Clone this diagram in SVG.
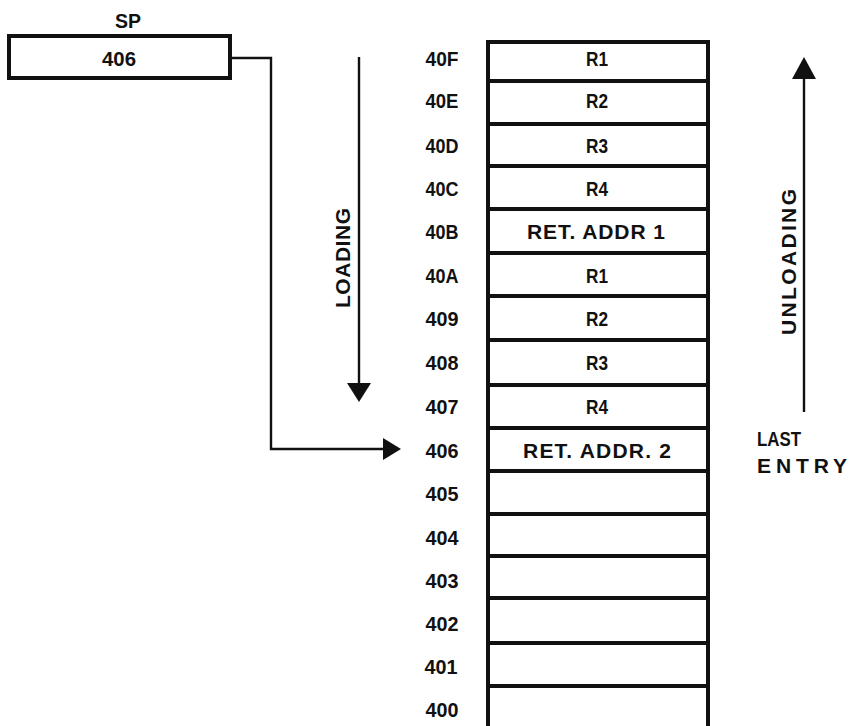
<svg xmlns="http://www.w3.org/2000/svg" width="850" height="726" viewBox="0 0 850 726">
<defs>
<style>
text{font-family:"Liberation Sans",Arial,sans-serif;font-weight:bold;font-size:21px;fill:#111;}
.c{text-anchor:middle;}
.box{fill:#fff;stroke:#111;stroke-width:4;}
.sep{stroke:#111;stroke-width:4;}
.ln{fill:none;stroke:#111;stroke-width:2.4;}
.head{fill:#111;}
</style>
</defs>
<rect width="850" height="726" fill="#fff"/>

<g id="sp">
<text class="c" x="128" y="28" textLength="26" lengthAdjust="spacingAndGlyphs">SP</text>
<rect class="box" x="9" y="36" width="221" height="42"/>
<text class="c" x="119" y="66" textLength="34" lengthAdjust="spacingAndGlyphs">406</text>
</g>

<g id="stack">
<path class="box" d="M488 730 V42 H708 V730"/>
<g id="r40F"><text class="c" x="442" y="66" textLength="33" lengthAdjust="spacingAndGlyphs">40F</text><text class="c" x="597" y="66" textLength="22" lengthAdjust="spacingAndGlyphs">R1</text></g>
<line class="sep" x1="488" y1="81" x2="708" y2="81"/>
<g id="r40E"><text class="c" x="442" y="108" textLength="33" lengthAdjust="spacingAndGlyphs">40E</text><text class="c" x="597" y="108" textLength="22" lengthAdjust="spacingAndGlyphs">R2</text></g>
<line class="sep" x1="488" y1="124" x2="708" y2="124"/>
<g id="r40D"><text class="c" x="442" y="153" textLength="33" lengthAdjust="spacingAndGlyphs">40D</text><text class="c" x="597" y="153" textLength="22" lengthAdjust="spacingAndGlyphs">R3</text></g>
<line class="sep" x1="488" y1="166" x2="708" y2="166"/>
<g id="r40C"><text class="c" x="442" y="196" textLength="33" lengthAdjust="spacingAndGlyphs">40C</text><text class="c" x="597" y="196" textLength="22" lengthAdjust="spacingAndGlyphs">R4</text></g>
<line class="sep" x1="488" y1="209" x2="708" y2="209"/>
<g id="r40B"><text class="c" x="442" y="239" textLength="33" lengthAdjust="spacingAndGlyphs">40B</text><text class="c" x="596" y="239" textLength="138" lengthAdjust="spacing">RET. ADDR 1</text></g>
<line class="sep" x1="488" y1="253" x2="708" y2="253"/>
<g id="r40A"><text class="c" x="442" y="283" textLength="33" lengthAdjust="spacingAndGlyphs">40A</text><text class="c" x="597" y="283" textLength="22" lengthAdjust="spacingAndGlyphs">R1</text></g>
<line class="sep" x1="488" y1="296" x2="708" y2="296"/>
<g id="r409"><text class="c" x="442" y="326" textLength="33" lengthAdjust="spacingAndGlyphs">409</text><text class="c" x="597" y="326" textLength="22" lengthAdjust="spacingAndGlyphs">R2</text></g>
<line class="sep" x1="488" y1="340" x2="708" y2="340"/>
<g id="r408"><text class="c" x="442" y="370" textLength="33" lengthAdjust="spacingAndGlyphs">408</text><text class="c" x="597" y="370" textLength="22" lengthAdjust="spacingAndGlyphs">R3</text></g>
<line class="sep" x1="488" y1="385" x2="708" y2="385"/>
<g id="r407"><text class="c" x="442" y="414" textLength="33" lengthAdjust="spacingAndGlyphs">407</text><text class="c" x="597" y="414" textLength="22" lengthAdjust="spacingAndGlyphs">R4</text></g>
<line class="sep" x1="488" y1="428" x2="708" y2="428"/>
<g id="r406"><text class="c" x="442" y="458" textLength="33" lengthAdjust="spacingAndGlyphs">406</text><text class="c" x="597" y="458" textLength="148" lengthAdjust="spacing">RET. ADDR. 2</text></g>
<line class="sep" x1="488" y1="471" x2="708" y2="471"/>
<g id="r405"><text class="c" x="442" y="501" textLength="33" lengthAdjust="spacingAndGlyphs">405</text></g>
<line class="sep" x1="488" y1="514" x2="708" y2="514"/>
<g id="r404"><text class="c" x="442" y="545" textLength="33" lengthAdjust="spacingAndGlyphs">404</text></g>
<line class="sep" x1="488" y1="556" x2="708" y2="556"/>
<g id="r403"><text class="c" x="442" y="588" textLength="33" lengthAdjust="spacingAndGlyphs">403</text></g>
<line class="sep" x1="488" y1="598" x2="708" y2="598"/>
<g id="r402"><text class="c" x="442" y="631" textLength="33" lengthAdjust="spacingAndGlyphs">402</text></g>
<line class="sep" x1="488" y1="643" x2="708" y2="643"/>
<g id="r401"><text class="c" x="441" y="674" textLength="33" lengthAdjust="spacingAndGlyphs">401</text></g>
<line class="sep" x1="488" y1="686" x2="708" y2="686"/>
<g id="r400"><text class="c" x="442" y="717" textLength="33" lengthAdjust="spacingAndGlyphs">400</text></g>
</g>

<g id="loading-label">
<text class="c" transform="translate(350,258) rotate(-90)" textLength="100" lengthAdjust="spacing">LOADING</text>
</g>
<g id="unloading-label">
<text class="c" transform="translate(796,262) rotate(-90)" textLength="146" lengthAdjust="spacing">UNLOADING</text>
<text x="757" y="446" textLength="44" lengthAdjust="spacingAndGlyphs">LAST</text>
<text x="757" y="473" textLength="90" lengthAdjust="spacing">ENTRY</text>
</g>

<g id="connectors">
<path class="ln" d="M230 58 H271 V449 H384"/>
<path class="head" d="M383 438 L401 449 L383 460 Z"/>
<line class="ln" x1="359" y1="57" x2="359" y2="386"/>
<path class="head" d="M347 383 L371 383 L359 402 Z"/>
<line class="ln" x1="804" y1="75" x2="804" y2="412"/>
<path class="head" d="M792 79 L816 79 L804 57 Z"/>
</g>
</svg>
